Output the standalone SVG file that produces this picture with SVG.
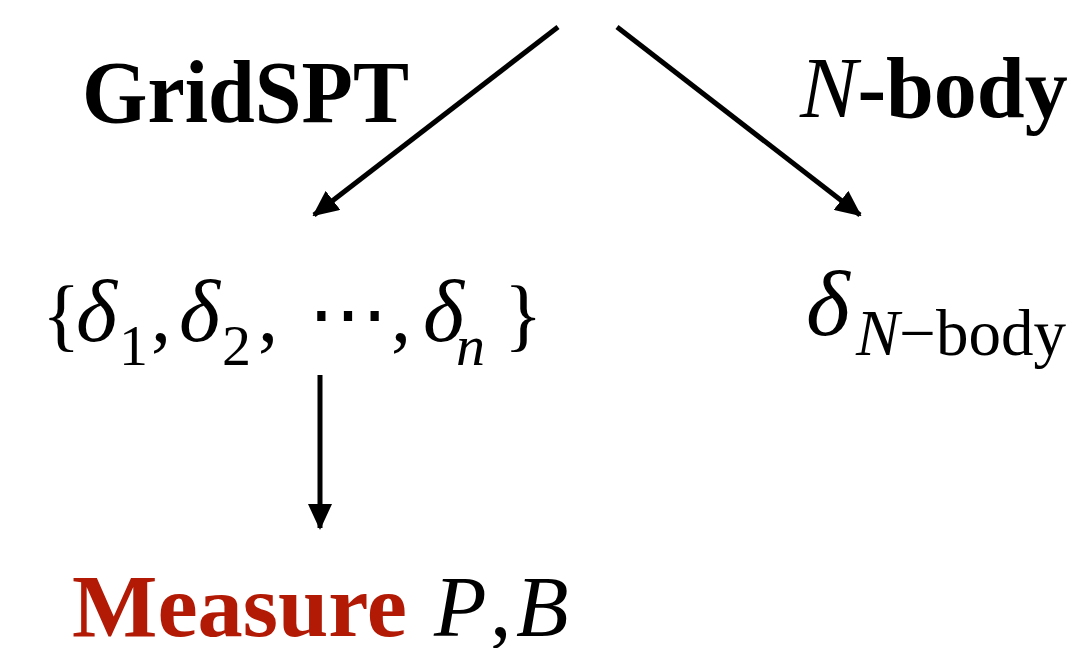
<svg xmlns="http://www.w3.org/2000/svg" width="1092" height="648" viewBox="0 0 1092 648">
<style>
text{font-family:"Liberation Serif","Times New Roman",serif;fill:#000}
.b{font-weight:bold}
.i{font-style:italic}
.red{fill:#B31A05}
.m{font-size:80px}
.d{font-size:88px;font-style:italic}
.s{font-size:58px}
.ln{stroke:#000;stroke-width:5;fill:none}
</style>
<defs>
<marker id="a" markerWidth="26" markerHeight="24" refX="24" refY="12" orient="auto" markerUnits="userSpaceOnUse" viewBox="0 0 26 24">
<path d="M0,0 L26,12 L0,24 Z" fill="#000"/>
</marker>
</defs>
<g id="connectors">
<line class="ln" x1="558" y1="27" x2="314" y2="215" marker-end="url(#a)"/>
<line class="ln" x1="617" y1="27" x2="860" y2="215" marker-end="url(#a)"/>
<line class="ln" x1="320" y1="375" x2="320" y2="528" marker-end="url(#a)"/>
</g>
<g id="label-gridspt"><text x="82" y="122" font-size="88" class="b" textLength="327" lengthAdjust="spacingAndGlyphs">GridSPT</text></g>
<g id="label-nbody"><text x="800" y="117" font-size="86"><tspan class="i">N</tspan><tspan class="b">-body</tspan></text></g>
<g id="node-deltas">
<text class="m" x="42" y="341">{</text>
<text class="d" x="76" y="341">δ</text>
<text class="s" x="119" y="365">1</text>
<text class="m" x="151" y="341">,</text>
<text class="d" x="179" y="341">δ</text>
<text class="s" x="222" y="365">2</text>
<text class="m" x="258" y="341">,</text>
<text class="m" x="308" y="341">⋯</text>
<text class="m" x="391" y="341">,</text>
<text class="d" x="423" y="341">δ</text>
<text class="s i" x="456" y="365">n</text>
<text class="m" x="504" y="341">}</text>
</g>
<g id="node-nbody">
<text x="806" y="335" font-size="94" class="i">δ</text>
<text x="856" y="355" font-size="65"><tspan class="i">N</tspan>−body</text>
</g>
<g id="node-measure">
<text x="72" y="636" font-size="89" class="b red" textLength="335" lengthAdjust="spacingAndGlyphs">Measure</text>
<text x="434" y="636" font-size="86" class="i">P</text>
<text x="490" y="636" font-size="86">,</text>
<text x="516" y="636" font-size="86" class="i">B</text>
</g>
</svg>
